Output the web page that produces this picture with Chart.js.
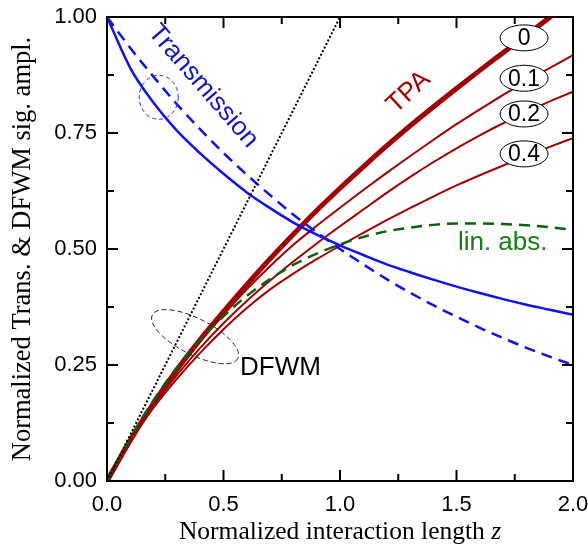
<!DOCTYPE html>
<html>
<head>
<meta charset="utf-8">
<script src="https://cdn.jsdelivr.net/npm/chart.js@4.4.0/dist/chart.umd.min.js"></script>
<style>
  html, body { margin: 0; padding: 0; background: #ffffff; }
  #wrap { width: 588px; height: 545px; }
</style>
</head>
<body>
<div id="wrap"><canvas id="c" width="588" height="545"></canvas></div>
<script>
// Normalized interaction length z
const zGrid = [0.0, 0.1, 0.2, 0.3, 0.4, 0.5, 0.6, 0.7, 0.8, 0.9, 1.0,
               1.1, 1.2, 1.3, 1.4, 1.5, 1.6, 1.7, 1.8, 1.9, 2.0];

// Transmission: two-photon absorption (solid) and linear absorption (dashed)
const transTPA = [1.000, 0.890, 0.815, 0.755, 0.706, 0.662, 0.622, 0.588, 0.557, 0.531, 0.508,
                  0.487, 0.467, 0.450, 0.434, 0.419, 0.405, 0.392, 0.380, 0.369, 0.358];
const transLin = [1.000, 0.933, 0.871, 0.812, 0.758, 0.707, 0.660, 0.616, 0.574, 0.536, 0.500,
                  0.467, 0.435, 0.406, 0.379, 0.354, 0.330, 0.308, 0.287, 0.268, 0.250];

// DFWM signal amplitude, linear absorption
const dfwmLin = [0.000, 0.093, 0.174, 0.244, 0.304, 0.355, 0.399, 0.435, 0.466, 0.490, 0.510,
                 0.526, 0.538, 0.546, 0.552, 0.555, 0.555, 0.554, 0.551, 0.547, 0.541];

// DFWM signal amplitude with TPA, for parameter 0, 0.1, 0.2, 0.4
const dfwmTPA0  = [0.000, 0.088, 0.168, 0.240, 0.305, 0.365, 0.423, 0.479, 0.532, 0.583, 0.631,
                   0.677, 0.722, 0.765, 0.806, 0.846, 0.885, 0.923, 0.961, 0.999, 1.036];
const dfwmTPA01 = [0.000, 0.088, 0.166, 0.236, 0.300, 0.358, 0.413, 0.463, 0.509, 0.550, 0.589,
                   0.627, 0.664, 0.700, 0.735, 0.769, 0.801, 0.832, 0.862, 0.890, 0.918];
const dfwmTPA02 = [0.000, 0.087, 0.162, 0.228, 0.287, 0.340, 0.388, 0.432, 0.473, 0.512, 0.549,
                   0.585, 0.621, 0.655, 0.687, 0.717, 0.745, 0.771, 0.795, 0.818, 0.839];
const dfwmTPA04 = [0.000, 0.086, 0.158, 0.220, 0.276, 0.327, 0.373, 0.413, 0.447, 0.478, 0.507,
                   0.535, 0.562, 0.588, 0.613, 0.637, 0.659, 0.680, 0.700, 0.720, 0.739];

// Lossless reference (dotted)
const refZ = [0.0, 1.0];
const refAmp = [0.0, 1.0];

// Curve parameter labels
const tpaLabels = ['0', '0.1', '0.2', '0.4'];
const tpaLabelPos = [0.955, 0.868, 0.791, 0.705];

const xTicks = [0, 0.5, 1.0, 1.5, 2.0];
const yTicks = [0, 0.25, 0.5, 0.75, 1.0];

const RED = '#a00000';
const BLUE = '#1010f0';
const GREEN = '#0c5f0c';

function pts(xs, ys) { return xs.map((x, i) => ({ x: x, y: ys[i] })); }

function curve(label, ys, color, width, dash, order) {
  return {
    label: label,
    data: pts(zGrid, ys),
    borderColor: color,
    borderWidth: width,
    borderDash: dash || [],
    pointRadius: 0,
    fill: false,
    cubicInterpolationMode: 'monotone',
    clip: 0,
    order: order
  };
}

// Inward ticks on all four sides plus the frame
const frameTicks = {
  id: 'frameTicks',
  afterDatasetsDraw(chart) {
    const { ctx, chartArea: a, scales: { x, y } } = chart;
    ctx.save();
    ctx.strokeStyle = '#000';
    ctx.lineWidth = 2;
    ctx.lineCap = 'butt';
    ctx.beginPath();
    const majorLen = 11, minorLen = 7;
    for (let i = 0; i < xTicks.length; i++) {
      const px = x.getPixelForValue(xTicks[i]);
      ctx.moveTo(px, a.bottom); ctx.lineTo(px, a.bottom - majorLen);
      ctx.moveTo(px, a.top); ctx.lineTo(px, a.top + majorLen);
      if (i < xTicks.length - 1) {
        const pm = x.getPixelForValue((xTicks[i] + xTicks[i + 1]) / 2);
        ctx.moveTo(pm, a.bottom); ctx.lineTo(pm, a.bottom - minorLen);
        ctx.moveTo(pm, a.top); ctx.lineTo(pm, a.top + minorLen);
      }
    }
    for (let i = 0; i < yTicks.length; i++) {
      const py = y.getPixelForValue(yTicks[i]);
      ctx.moveTo(a.left, py); ctx.lineTo(a.left + majorLen, py);
      ctx.moveTo(a.right, py); ctx.lineTo(a.right - majorLen, py);
      if (i < yTicks.length - 1) {
        const pm = y.getPixelForValue((yTicks[i] + yTicks[i + 1]) / 2);
        ctx.moveTo(a.left, pm); ctx.lineTo(a.left + minorLen, pm);
        ctx.moveTo(a.right, pm); ctx.lineTo(a.right - minorLen, pm);
      }
    }
    ctx.stroke();
    ctx.strokeRect(a.left, a.top, a.right - a.left, a.bottom - a.top);
    ctx.restore();
  }
};

// Text labels, ellipses and the x-axis title
const annotations = {
  id: 'annotations',
  afterDraw(chart) {
    const { ctx, chartArea: a, scales: { x, y } } = chart;
    const px = v => x.getPixelForValue(v);
    const py = v => y.getPixelForValue(v);
    ctx.save();

    // "Transmission"
    ctx.save();
    ctx.translate(px(0.412), py(0.851));
    ctx.rotate(49 * Math.PI / 180);
    ctx.font = '26px "Liberation Sans", Arial, sans-serif';
    ctx.fillStyle = '#1414c0';
    ctx.textAlign = 'center';
    ctx.textBaseline = 'middle';
    ctx.fillText('Transmission', 0, 0);
    ctx.restore();

    // dashed marker round the transmission curves
    ctx.save();
    ctx.strokeStyle = '#2a2ad8';
    ctx.lineWidth = 1;
    ctx.setLineDash([4, 3]);
    ctx.beginPath();
    ctx.ellipse(px(0.222), py(0.827), 19.5, 22, 0, 0, Math.PI * 2);
    ctx.stroke();
    ctx.restore();

    // "TPA"
    ctx.save();
    ctx.translate(px(1.295), py(0.838));
    ctx.rotate(-43 * Math.PI / 180);
    ctx.font = '26px "Liberation Sans", Arial, sans-serif';
    ctx.fillStyle = RED;
    ctx.textAlign = 'center';
    ctx.textBaseline = 'middle';
    ctx.fillText('TPA', 0, 0);
    ctx.restore();

    // parameter labels in ellipses
    ctx.font = '23px "Liberation Sans", Arial, sans-serif';
    ctx.textAlign = 'center';
    ctx.textBaseline = 'middle';
    for (let i = 0; i < tpaLabels.length; i++) {
      const cx = px(1.79), cy = py(tpaLabelPos[i]);
      ctx.beginPath();
      ctx.ellipse(cx, cy, 24, 13, 0, 0, Math.PI * 2);
      ctx.fillStyle = '#fff';
      ctx.fill();
      ctx.lineWidth = 1;
      ctx.strokeStyle = '#000';
      ctx.setLineDash([]);
      ctx.stroke();
      ctx.fillStyle = '#000';
      ctx.fillText(tpaLabels[i], cx, cy + 1);
    }

    // "lin. abs."
    ctx.font = '26px "Liberation Sans", Arial, sans-serif';
    ctx.fillStyle = '#128012';
    ctx.textAlign = 'left';
    ctx.textBaseline = 'alphabetic';
    ctx.fillText('lin. abs.', px(1.506), py(0.498));

    // dashed marker round the DFWM curves
    ctx.save();
    ctx.strokeStyle = '#222';
    ctx.lineWidth = 1;
    ctx.setLineDash([5, 3]);
    ctx.beginPath();
    ctx.ellipse(px(0.378), py(0.311), 48, 18, 27 * Math.PI / 180, 0, Math.PI * 2);
    ctx.stroke();
    ctx.restore();

    // "DFWM"
    ctx.font = '26px "Liberation Sans", Arial, sans-serif';
    ctx.fillStyle = '#000';
    ctx.textAlign = 'left';
    ctx.textBaseline = 'alphabetic';
    ctx.fillText('DFWM', px(0.571), py(0.228));

    // x-axis title with italic z
    const main = 'Normalized interaction length ';
    const serif = '"Liberation Serif", "Times New Roman", serif';
    ctx.font = '25.5px ' + serif;
    const w1 = ctx.measureText(main).width;
    ctx.font = 'italic 25.5px ' + serif;
    const w2 = ctx.measureText('z').width;
    const startX = (a.left + a.right) / 2 - (w1 + w2) / 2;
    const baseY = 539;
    ctx.fillStyle = '#000';
    ctx.textAlign = 'left';
    ctx.font = '25.5px ' + serif;
    ctx.fillText(main, startX, baseY);
    ctx.font = 'italic 25.5px ' + serif;
    ctx.fillText('z', startX + w1, baseY);

    ctx.restore();
  }
};

new Chart(document.getElementById('c'), {
  type: 'line',
  data: {
    datasets: [
      curve('TPA 0', dfwmTPA0, RED, 5, null, 6),
      curve('TPA 0.1', dfwmTPA01, RED, 2, null, 6),
      curve('TPA 0.2', dfwmTPA02, RED, 2, null, 6),
      curve('TPA 0.4', dfwmTPA04, RED, 2, null, 6),
      curve('lin. abs.', dfwmLin, GREEN, 2.5, [11, 7], 5),
      curve('Transmission TPA', transTPA, BLUE, 2.5, null, 4),
      curve('Transmission lin.', transLin, BLUE, 2.5, [11, 7], 4),
      {
        label: 'reference',
        data: pts(refZ, refAmp),
        borderColor: '#000',
        borderWidth: 2,
        borderDash: [2, 2],
        pointRadius: 0,
        fill: false,
        clip: 0,
        order: 3
      }
    ]
  },
  options: {
    responsive: false,
    animation: false,
    devicePixelRatio: 1,
    layout: { padding: { top: 17, right: 15, bottom: 0, left: 0 } },
    plugins: { legend: { display: false }, tooltip: { enabled: false } },
    scales: {
      x: {
        type: 'linear',
        min: 0, max: 2,
        afterBuildTicks: s => { s.ticks = xTicks.map(v => ({ value: v })); },
        afterFit: s => { s.height = 64; s.paddingLeft = 0; s.paddingRight = 0; },
        grid: { display: false, drawTicks: false },
        border: { display: false },
        ticks: {
          padding: 11,
          color: '#000',
          font: { family: '"Liberation Sans", Arial, sans-serif', size: 22 },
          maxRotation: 0,
          callback: v => Number(v).toFixed(1)
        }
      },
      y: {
        type: 'linear',
        min: 0, max: 1,
        afterBuildTicks: s => { s.ticks = yTicks.map(v => ({ value: v })); },
        afterFit: s => { s.width = 107; s.paddingTop = 0; s.paddingBottom = 0; },
        grid: { display: false, drawTicks: false },
        border: { display: false },
        ticks: {
          padding: 10,
          color: '#000',
          font: { family: '"Liberation Sans", Arial, sans-serif', size: 22 },
          callback: v => Number(v).toFixed(2)
        },
        title: {
          display: true,
          text: 'Normalized Trans. & DFWM sig. ampl.',
          color: '#000',
          font: { family: '"Liberation Serif", "Times New Roman", serif', size: 26.5 },
          padding: { top: 7, bottom: 0 }
        }
      }
    }
  },
  plugins: [frameTicks, annotations]
});
</script>
</body>
</html>
